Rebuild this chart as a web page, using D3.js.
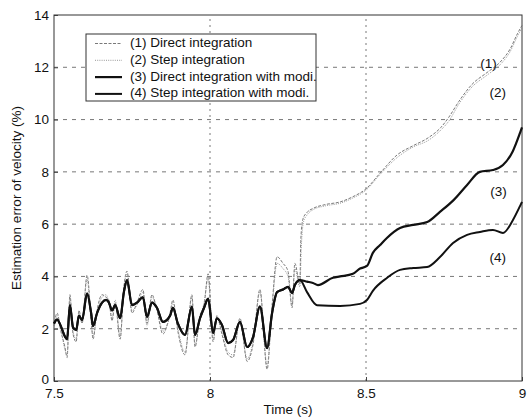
<!DOCTYPE html>
<html>
<head>
<meta charset="utf-8">
<script src="https://cdn.jsdelivr.net/npm/d3@7"></script>
<style>
  html, body { margin: 0; padding: 0; background: #fff; }
  svg { display: block; font-family: "Liberation Sans", Arial, sans-serif; }
</style>
</head>
<body>
<svg id="chart" width="530" height="420"></svg>
<script>
// Time samples shared by all four curves in the noisy stretch (s)
const timeNoisy = [7.500, 7.510, 7.522, 7.535, 7.542, 7.551, 7.561, 7.571, 7.580, 7.590,
  7.606, 7.619, 7.625, 7.638, 7.654, 7.667, 7.676, 7.686, 7.696, 7.712,
  7.724, 7.734, 7.750, 7.766, 7.785, 7.798, 7.814, 7.830, 7.849, 7.872,
  7.881, 7.897, 7.920, 7.942, 7.952, 7.968, 7.981, 7.994, 8.010, 8.022,
  8.038, 8.058, 8.074, 8.096, 8.119, 8.138, 8.160, 8.183, 8.199, 8.215,
  8.234, 8.250, 8.263, 8.272, 8.288];

// (1) Direct integration
const directNoisy = [2.1, 2.6, 1.9, 1.3, 0.9, 3.3, 1.8, 1.5, 2.7, 2.2,
  4.05, 2.4, 1.6, 2.7, 3.3, 3.2, 3.1, 2.3, 3.0, 1.6,
  3.6, 4.2, 2.6, 3.0, 3.5, 2.2, 3.3, 2.7, 1.8, 2.6,
  3.1, 1.9, 1.0, 3.3, 1.3, 2.5, 2.9, 4.1, 1.5, 2.5,
  1.8, 1.0, 0.9, 2.4, 0.75, 1.4, 3.5, 0.45, 2.9, 4.75,
  4.5, 4.2, 2.8, 4.5, 3.7];
const directTailT = [8.291, 8.298, 8.311, 8.330, 8.370, 8.417, 8.458, 8.500, 8.545, 8.600,
  8.651, 8.699, 8.740, 8.766, 8.798, 8.840, 8.888, 8.930, 8.962, 8.986, 9.000];
const directTailV = [5.4, 6.2, 6.45, 6.6, 6.75, 6.85, 7.05, 7.35, 7.95, 8.65,
  9.0, 9.3, 9.7, 10.1, 10.7, 11.35, 11.8, 12.2, 12.7, 13.3, 13.6];

// (2) Step integration
const stepNoisy = [2.0, 2.5, 2.0, 1.2, 1.0, 3.2, 1.9, 1.6, 2.6, 2.3,
  3.9, 2.3, 1.7, 2.6, 3.2, 3.3, 3.0, 2.4, 3.1, 1.7,
  3.5, 4.1, 2.7, 2.9, 3.4, 2.1, 3.2, 2.8, 1.9, 2.5,
  3.0, 2.0, 1.1, 3.2, 1.4, 2.4, 3.0, 3.9, 1.6, 2.4,
  1.9, 1.1, 1.0, 2.3, 0.85, 1.5, 3.4, 0.6, 2.8, 4.5,
  4.3, 4.0, 2.9, 4.3, 3.6];
const stepTailT = [8.293, 8.300, 8.311, 8.330, 8.370, 8.417, 8.458, 8.500, 8.545, 8.600,
  8.651, 8.699, 8.740, 8.766, 8.798, 8.840, 8.888, 8.930, 8.962, 8.986, 9.000];
const stepTailV = [5.2, 6.1, 6.35, 6.55, 6.7, 6.8, 7.0, 7.3, 7.9, 8.55,
  8.95, 9.2, 9.6, 9.95, 10.6, 11.25, 11.7, 12.1, 12.6, 13.2, 13.5];

// (3) and (4) share the same early history
const modiNoisy = [2.2, 2.35, 2.1, 1.7, 1.6, 2.9, 2.05, 1.95, 2.5, 2.33,
  3.35, 2.6, 2.1, 2.6, 3.0, 3.1, 3.0, 2.7, 2.9, 2.4,
  3.4, 3.86, 2.9, 3.0, 3.2, 2.45, 3.0, 2.8, 2.26, 2.5,
  2.8, 2.2, 1.76, 2.85, 1.76, 2.4, 2.8, 3.15, 1.84, 2.4,
  2.15, 1.45, 1.57, 2.26, 1.3, 1.68, 2.85, 1.26, 2.6, 3.4,
  3.5, 3.6, 3.37, 3.67, 3.86];

// (3) Direct integration with modification
const directModiTailT = [8.311, 8.330, 8.346, 8.394, 8.417, 8.458, 8.481, 8.503, 8.522, 8.545,
  8.567, 8.609, 8.651, 8.696, 8.737, 8.779, 8.824, 8.865, 8.907, 8.939, 8.971, 8.994, 9.000];
const directModiTailV = [3.8, 3.75, 3.67, 3.95, 4.0, 4.1, 4.3, 4.4, 4.9, 5.2,
  5.47, 5.85, 5.97, 6.08, 6.47, 6.9, 7.5, 8.0, 8.07, 8.26, 8.8, 9.5, 9.7];

// (4) Step integration with modification
const stepModiTailT = [8.311, 8.343, 8.417, 8.481, 8.503, 8.522, 8.567, 8.609, 8.651, 8.696,
  8.737, 8.779, 8.824, 8.865, 8.907, 8.939, 8.971, 8.994, 9.000];
const stepModiTailV = [3.4, 2.9, 2.87, 2.95, 3.1, 3.45, 3.94, 4.25, 4.32, 4.36,
  4.74, 5.28, 5.59, 5.7, 5.78, 5.66, 6.16, 6.7, 6.85];

const xTicks = [7.5, 8, 8.5, 9];
const yTicks = [0, 2, 4, 6, 8, 10, 12, 14];
const legendLabels = ["(1) Direct integration", "(2) Step integration",
  "(3) Direct integration with modi.", "(4) Step integration with modi."];
const curveTags = ["(1)", "(2)", "(3)", "(4)"];
const tagPositions = [[8.893, 12.1], [8.922, 11.0], [8.925, 7.2], [8.922, 4.7]];

const zip = (ts, vs) => ts.map((t, i) => ({ t, v: vs[i] }));
const series = [
  { pts: zip(timeNoisy.concat(directTailT), directNoisy.concat(directTailV)),
    stroke: "#6a6a6a", width: 0.9, dash: "3,1.5" },
  { pts: zip(timeNoisy.concat(stepTailT), stepNoisy.concat(stepTailV)),
    stroke: "#8a8a8a", width: 0.9, dash: "1,1.2" },
  { pts: zip(timeNoisy.concat(directModiTailT), modiNoisy.concat(directModiTailV)),
    stroke: "#111", width: 2.2, dash: null },
  { pts: zip(timeNoisy.concat(stepModiTailT), modiNoisy.concat(stepModiTailV)),
    stroke: "#111", width: 2.0, dash: null }
];

const FS = 13.5;
const margin = { left: 54, right: 8, top: 15, bottom: 39 };
const W = 530, H = 420;
const svg = d3.select("#chart");

const x = d3.scaleLinear().domain([7.5, 9]).range([margin.left, W - margin.right]);
const y = d3.scaleLinear().domain([0, 14]).range([H - margin.bottom, margin.top]);

// Grid
const grid = svg.append("g").attr("stroke", "#555").attr("stroke-width", 0.8);
grid.selectAll("line.h").data(yTicks.slice(1, -1)).join("line")
  .attr("x1", x(7.5)).attr("x2", x(9))
  .attr("y1", d => y(d)).attr("y2", d => y(d))
  .attr("stroke-dasharray", "4,5");
grid.selectAll("line.v").data(xTicks.slice(1, -1)).join("line")
  .attr("y1", y(0)).attr("y2", y(14))
  .attr("x1", d => x(d)).attr("x2", d => x(d))
  .attr("stroke-dasharray", "2,4");

// Axes with inward ticks
const xAxis = svg.append("g").attr("transform", `translate(0,${y(0)})`)
  .call(d3.axisBottom(x).tickValues(xTicks).tickFormat(d3.format("")).tickSizeInner(-4).tickSizeOuter(0).tickPadding(9));
const yAxis = svg.append("g").attr("transform", `translate(${x(7.5)},0)`)
  .call(d3.axisLeft(y).tickValues(yTicks).tickSizeInner(-4).tickSizeOuter(0).tickPadding(5));
[xAxis, yAxis].forEach(g => {
  g.select(".domain").remove();
  g.selectAll("line").attr("stroke", "#444");
  g.selectAll("text").attr("font-size", FS).attr("fill", "#111");
});
xAxis.selectAll("text").attr("dy", "0.62em");
yAxis.selectAll("text").filter(d => d === 0).attr("dy", "0.2em");

// Frame
svg.append("rect")
  .attr("x", x(7.5)).attr("y", y(14))
  .attr("width", x(9) - x(7.5)).attr("height", y(0) - y(14))
  .attr("fill", "none").attr("stroke", "#333").attr("stroke-width", 1);

// Curves
const line = d3.line().x(d => x(d.t)).y(d => y(d.v)).curve(d3.curveMonotoneX);
svg.append("g").selectAll("path").data(series).join("path")
  .attr("d", d => line(d.pts))
  .attr("fill", "none")
  .attr("stroke", d => d.stroke)
  .attr("stroke-width", d => d.width)
  .attr("stroke-dasharray", d => d.dash)
  .attr("stroke-linejoin", "round");

// Curve tags
svg.append("g").selectAll("text").data(curveTags).join("text")
  .attr("x", (d, i) => x(tagPositions[i][0]))
  .attr("y", (d, i) => y(tagPositions[i][1]))
  .attr("text-anchor", "middle").attr("dominant-baseline", "middle")
  .attr("font-size", FS).attr("fill", "#111")
  .text(d => d);

// Legend
const leg = svg.append("g");
leg.append("rect").attr("x", 86).attr("y", 34).attr("width", 230).attr("height", 67)
  .attr("fill", "#fff").attr("stroke", "#333").attr("stroke-width", 1);
legendLabels.forEach((lab, i) => {
  const ly = 43.5 + i * 16.8;
  const s = series[i];
  leg.append("line").attr("x1", 95).attr("x2", 122).attr("y1", ly).attr("y2", ly)
    .attr("stroke", s.stroke).attr("stroke-width", s.width).attr("stroke-dasharray", s.dash);
  leg.append("text").attr("x", 130).attr("y", ly).attr("dominant-baseline", "middle")
    .attr("font-size", FS).attr("fill", "#111").text(lab);
});

// Axis titles
svg.append("text").attr("x", x(8.25)).attr("y", 414).attr("text-anchor", "middle")
  .attr("font-size", FS).attr("fill", "#111").text("Time (s)");
svg.append("text").attr("transform", `translate(21,${y(7)}) rotate(-90)`)
  .attr("text-anchor", "middle").attr("font-size", FS).attr("fill", "#111")
  .text("Estimation error of velocity (%)");
</script>
</body>
</html>
